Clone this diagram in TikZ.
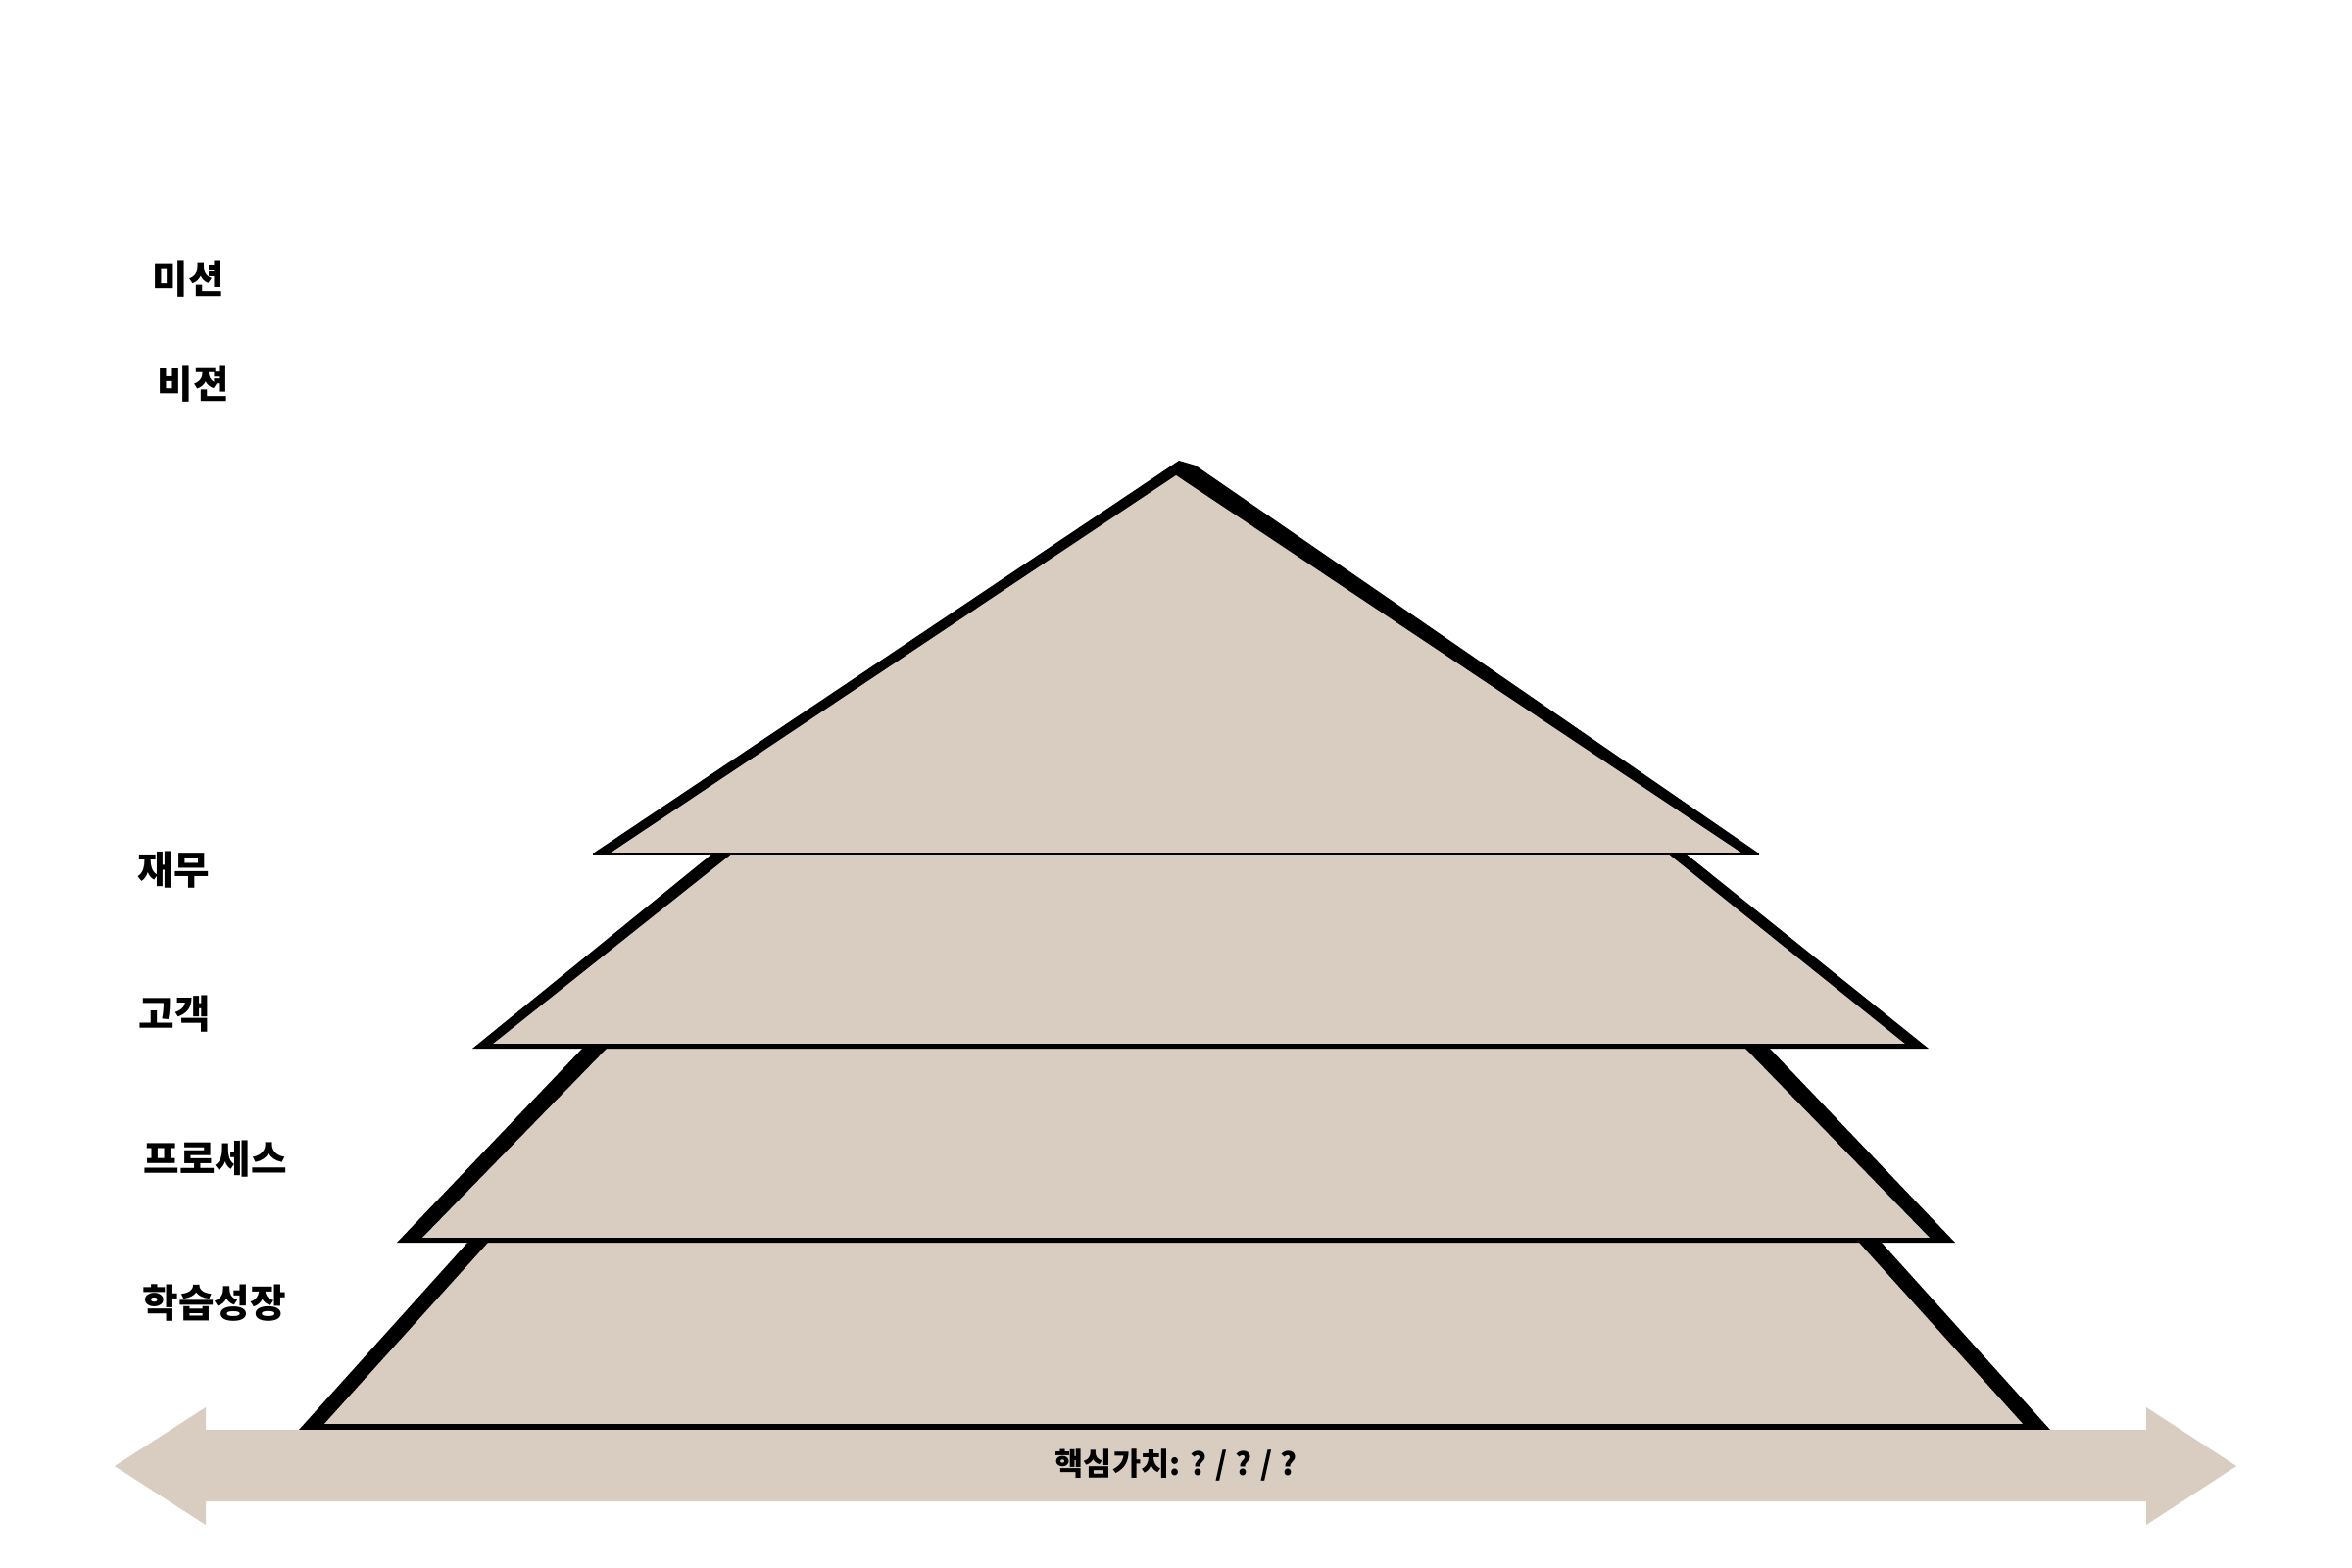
\documentclass[tikz,border=0pt]{standalone}
\usepackage{fontspec}
\newfontfamily\kr{Noto Sans CJK KR}
\definecolor{layerfill}{HTML}{D9CCC1}
\definecolor{baseline}{HTML}{5A5A5A}
\begin{document}
\begin{tikzpicture}[x=0.01cm,y=-0.01cm,
  shadowpoly/.style={fill=black},
  layerpoly/.style={fill=layerfill},
  label/.style={anchor=west,inner sep=0pt,font=\kr\bfseries\fontsize{11.3pt}{13pt}\selectfont},
  corelabel/.style={inner sep=0pt,font=\kr\bfseries\fontsize{9pt}{11pt}\selectfont}]
\useasboundingbox[fill=white] (0,0) rectangle (2400,1600);
% layer 4 (bottom)
\fill[shadowpoly] (477,1268) -- (1920,1268) -- (2092,1459) -- (305,1459) -- cycle;
\fill[layerpoly] (498,1268) -- (1897,1268) -- (2065,1454) -- (330,1454) -- cycle;
\draw[baseline,line width=0.4pt] (330,1454) -- (2065,1454);
% layer 3
\fill[shadowpoly] (595,1069) -- (1805,1069) -- (1995,1268) -- (405,1268) -- cycle;
\fill[layerpoly] (620,1069) -- (1780,1069) -- (1970,1264) -- (430,1264) -- cycle;
\draw[baseline,line width=0.4pt] (430,1264) -- (1970,1264);
% layer 2
\fill[shadowpoly] (727,871) -- (1720,871) -- (1968,1070) -- (482,1070) -- cycle;
\fill[layerpoly] (747,871) -- (1702,871) -- (1945,1066) -- (502,1066) -- cycle;
\draw[baseline,line width=0.4pt] (502,1066) -- (1945,1066);
% layer 1 (top triangle)
\fill[shadowpoly] (605,871) -- (1203,470) -- (1220,475) -- (1795,871) -- cycle;
\fill[layerpoly] (1200,485) -- (1778,871) -- (622,871) -- cycle;
\draw[baseline,line width=0.6pt] (605,871) -- (1795,871);
% core value arrow
\fill[layerfill] (117,1496) -- (210,1436) -- (210,1459) -- (2190,1459) -- (2190,1436)
  -- (2282,1496) -- (2190,1556) -- (2190,1532) -- (210,1532) -- (210,1556) -- cycle;
\node[corelabel] (core) at (1200,1495) {핵심가치: ? / ? / ?};
% labels
\node[label] (mission) at (155,285) {미션};
\node[label] (vision) at (160,392) {비젼};
\node[label] (finance) at (140,888) {재무};
\node[label] (customer) at (141,1035) {고객};
\node[label] (process) at (146,1183) {프로세스};
\node[label] (learning) at (145,1330) {학습성장};
\end{tikzpicture}
\end{document}
